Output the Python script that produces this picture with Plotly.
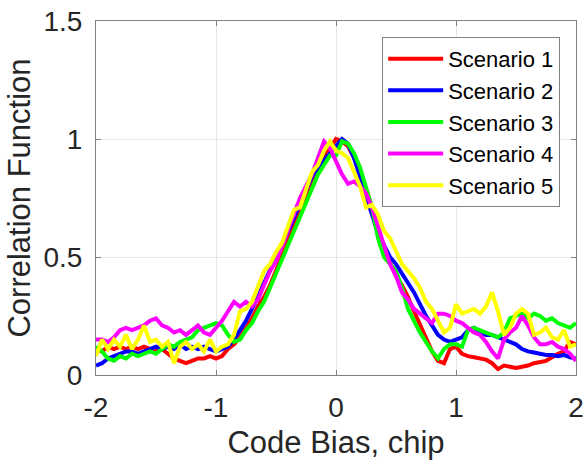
import numpy as np
import plotly.graph_objects as go

x_bias = [round(-2 + 0.05 * i, 2) for i in range(81)]

scenario_1 = [0.11, 0.10, 0.12, 0.11, 0.12, 0.11, 0.12, 0.11, 0.12, 0.11,
              0.10, 0.11, 0.09, 0.07, 0.06, 0.05, 0.06, 0.07, 0.07, 0.08,
              0.07, 0.08, 0.11, 0.13, 0.16, 0.20, 0.24, 0.29, 0.33, 0.38,
              0.44, 0.50, 0.56, 0.62, 0.69, 0.75, 0.82, 0.88, 0.93, 0.96,
              1.00, 0.99, 0.97, 0.92, 0.86, 0.79, 0.71, 0.60, 0.53, 0.47,
              0.42, 0.38, 0.33, 0.27, 0.21, 0.15, 0.10, 0.06, 0.05, 0.11,
              0.12, 0.09, 0.08, 0.075, 0.07, 0.065, 0.05, 0.025, 0.04, 0.035,
              0.03, 0.035, 0.04, 0.05, 0.055, 0.06, 0.075, 0.09, 0.10, 0.14,
              0.13]

scenario_2 = [0.04, 0.05, 0.07, 0.08, 0.09, 0.10, 0.10, 0.09, 0.10, 0.11,
              0.12, 0.11, 0.12, 0.11, 0.13, 0.11, 0.12, 0.11, 0.12, 0.11,
              0.10, 0.11, 0.12, 0.15, 0.19, 0.23, 0.28, 0.33, 0.39, 0.45,
              0.50, 0.55, 0.61, 0.66, 0.72, 0.78, 0.84, 0.88, 0.91, 0.94,
              0.97, 1.00, 0.98, 0.92, 0.84, 0.76, 0.68, 0.60, 0.55, 0.50,
              0.47, 0.43, 0.39, 0.35, 0.30, 0.25, 0.21, 0.17, 0.15, 0.14,
              0.15, 0.16, 0.19, 0.20, 0.18, 0.17, 0.17, 0.16, 0.15, 0.14,
              0.13, 0.11, 0.10, 0.095, 0.09, 0.085, 0.085, 0.08, 0.085, 0.075,
              0.07]

scenario_3 = [0.12, 0.10, 0.07, 0.06, 0.08, 0.07, 0.09, 0.08, 0.09, 0.10,
              0.09, 0.11, 0.13, 0.12, 0.14, 0.15, 0.16, 0.19, 0.20, 0.21,
              0.22, 0.21, 0.17, 0.14, 0.15, 0.19, 0.22, 0.27, 0.31, 0.37,
              0.43, 0.49, 0.55, 0.62, 0.68, 0.73, 0.79, 0.85, 0.89, 0.93,
              0.93, 0.99, 0.98, 0.94, 0.88, 0.80, 0.71, 0.58, 0.50, 0.47,
              0.44, 0.37, 0.28, 0.23, 0.18, 0.14, 0.10, 0.07, 0.11, 0.13,
              0.13, 0.12, 0.19, 0.20, 0.19, 0.18, 0.17, 0.16, 0.18, 0.24,
              0.25, 0.26, 0.24, 0.26, 0.25, 0.23, 0.24, 0.22, 0.21, 0.20,
              0.22]

scenario_4 = [0.15, 0.15, 0.14, 0.16, 0.19, 0.20, 0.19, 0.20, 0.21, 0.23,
              0.24, 0.21, 0.20, 0.18, 0.19, 0.17, 0.19, 0.21, 0.18, 0.17,
              0.20, 0.23, 0.27, 0.31, 0.29, 0.31, 0.29, 0.32, 0.38, 0.44,
              0.48, 0.55, 0.61, 0.69, 0.75, 0.80, 0.85, 0.92, 0.99, 0.96,
              0.90, 0.85, 0.81, 0.82, 0.80, 0.77, 0.71, 0.63, 0.55, 0.47,
              0.42, 0.35, 0.32, 0.28, 0.26, 0.24, 0.22, 0.26, 0.26, 0.25,
              0.23, 0.22, 0.20, 0.18, 0.17, 0.14, 0.10, 0.07, 0.15, 0.18,
              0.20, 0.25, 0.21, 0.16, 0.13, 0.13, 0.14, 0.12, 0.11, 0.09,
              0.06]

scenario_5 = [0.08, 0.15, 0.11, 0.15, 0.12, 0.17, 0.11, 0.15, 0.21, 0.14,
              0.15, 0.12, 0.14, 0.05, 0.12, 0.14, 0.11, 0.13, 0.10, 0.15,
              0.10, 0.12, 0.13, 0.17, 0.27, 0.28, 0.31, 0.38, 0.44, 0.47,
              0.52, 0.56, 0.63, 0.70, 0.71, 0.78, 0.86, 0.89, 0.95, 0.99,
              0.95, 0.94, 0.92, 0.86, 0.80, 0.71, 0.72, 0.68, 0.61, 0.58,
              0.52, 0.47, 0.44, 0.41, 0.37, 0.31, 0.28, 0.23, 0.18, 0.20,
              0.30, 0.26, 0.27, 0.28, 0.26, 0.29, 0.35, 0.27, 0.17, 0.20,
              0.26, 0.28, 0.26, 0.17, 0.18, 0.20, 0.16, 0.15, 0.19, 0.12,
              0.13]

series_names = ["Scenario 1", "Scenario 2", "Scenario 3", "Scenario 4", "Scenario 5"]
series_values = [scenario_1, scenario_2, scenario_3, scenario_4, scenario_5]
series_colors = ["#ff0000", "#0000ff", "#00ff00", "#ff00ff", "#ffff00"]

x_ticks = [-2, -1, 0, 1, 2]
x_tick_labels = ["-2", "-1", "0", "1", "2"]
y_ticks = [0, 0.5, 1, 1.5]
y_tick_labels = ["0", "0.5", "1", "1.5"]

FONT = "Liberation Sans, Arial, Helvetica, sans-serif"
TXT = "#262626"
AX = "#808080"

fig = go.Figure()
for name, vals, col in zip(series_names, series_values, series_colors):
    fig.add_trace(go.Scatter(x=x_bias, y=vals, mode="lines", name=name,
                             line=dict(color=col, width=4)))

axis_common = dict(
    showline=True, linecolor=AX, linewidth=1, mirror="ticks",
    ticks="inside", ticklen=5, tickcolor=AX, tickwidth=1,
    showgrid=True, gridcolor="#e6e6e6", gridwidth=1, automargin=False,
    zeroline=False, tickfont=dict(family=FONT, size=28, color=TXT),
)

fig.update_layout(
    width=584, height=462,
    margin=dict(l=96, r=8, t=21, b=87),
    paper_bgcolor="white", plot_bgcolor="white",
    font=dict(family=FONT, color=TXT),
    xaxis=dict(range=[-2, 2], tickvals=x_ticks, ticktext=x_tick_labels,
               title=dict(text="Code Bias, chip", font=dict(family=FONT, size=31, color=TXT), standoff=9),
               ticklabelstandoff=7, **axis_common),
    yaxis=dict(range=[0, 1.5], tickvals=y_ticks, ticktext=y_tick_labels,
               title=dict(text="Correlation Function", font=dict(family=FONT, size=31, color=TXT), standoff=3),
               ticklabelstandoff=7, **axis_common),
    legend=dict(x=0.967, y=0.955, xanchor="right", yanchor="top",
                bgcolor="white", bordercolor=AX, borderwidth=1,
                font=dict(family=FONT, size=22, color="#000000"),
                itemwidth=55, tracegroupgap=0),
    showlegend=True,
)

fig.write_html("out.html", config={"displayModeBar": False},
               post_script="document.body.style.margin='0px';")
